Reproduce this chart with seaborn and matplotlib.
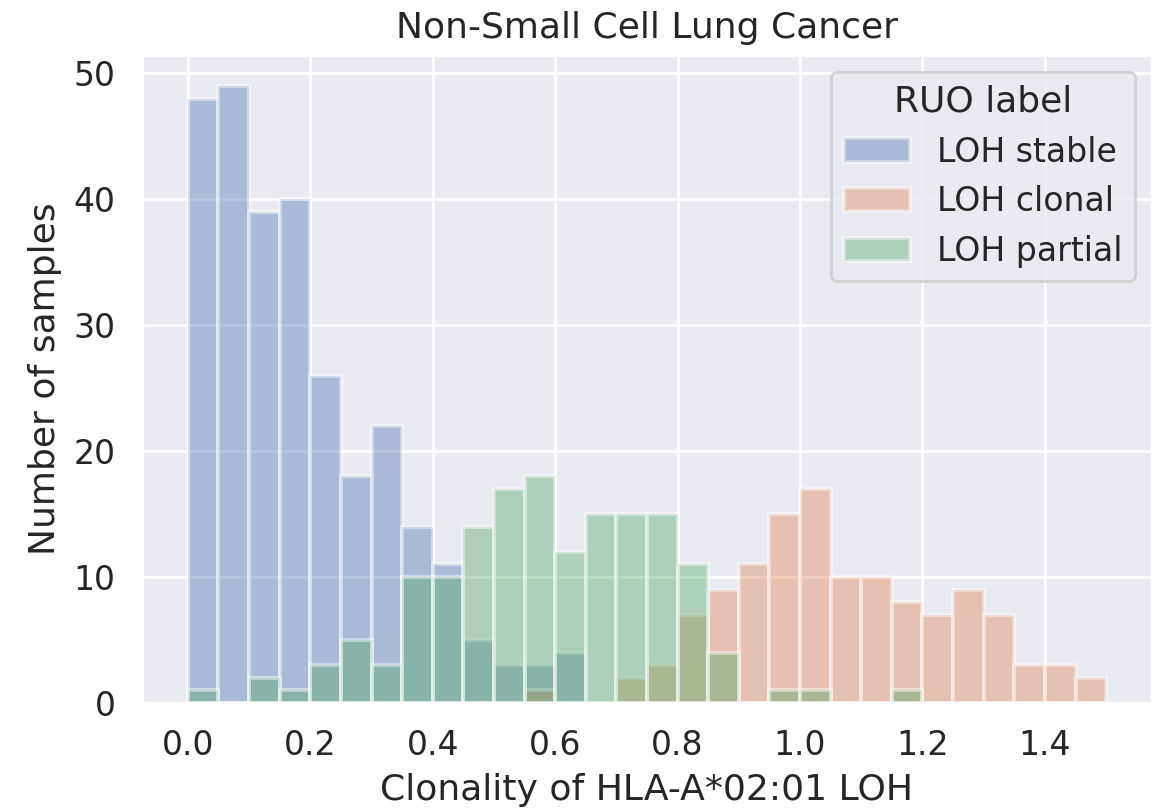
import numpy as np
import pandas as pd
import matplotlib
matplotlib.use("Agg")
import matplotlib.pyplot as plt
import matplotlib.colors as mcolors
import seaborn as sns

# Histogram bins: 0.00 to 1.50 in steps of 0.05
bin_edges = [round(0.05 * i, 2) for i in range(31)]

labels = ["LOH stable", "LOH clonal", "LOH partial"]

# Sample counts per bin for each RUO label
counts_stable = [48, 49, 39, 40, 26, 18, 22, 14, 11, 5, 3, 3, 4, 0, 0,
                 0, 0, 0, 0, 0, 0, 0, 0, 0, 0, 0, 0, 0, 0, 0]
counts_clonal = [0, 0, 0, 0, 0, 0, 0, 0, 0, 0, 0, 1, 0, 0, 2,
                 3, 7, 9, 11, 15, 17, 10, 10, 8, 7, 9, 7, 3, 3, 2]
counts_partial = [1, 0, 2, 1, 3, 5, 3, 10, 10, 14, 17, 18, 12, 15, 15,
                  15, 11, 4, 0, 1, 1, 0, 0, 1, 0, 0, 0, 0, 0, 0]

edges = np.array(bin_edges)
centers = (edges[:-1] + edges[1:]) / 2
frames = []
for lab, cnt in zip(labels, [counts_stable, counts_clonal, counts_partial]):
    frames.append(pd.DataFrame({"clonality": centers, "n": cnt, "RUO label": lab}))
df = pd.concat(frames, ignore_index=True)

sns.set_theme(font_scale=1.085)
palette = sns.color_palette("deep", 3)

fig = plt.figure(figsize=(5.785, 4.055), dpi=200)
ax = fig.add_axes([0.1227, 0.1332, 0.873, 0.7988])

sns.histplot(data=df, x="clonality", weights="n", hue="RUO label",
             hue_order=labels, palette=palette, bins=bin_edges, alpha=0.4,
             edgecolor=(1, 1, 1, 0.45), linewidth=1.4, ax=ax)

# Layer the groups so that later labels sit on top of earlier ones
for patch in ax.patches:
    fc = patch.get_facecolor()[:3]
    for k, col in enumerate(palette):
        if np.allclose(fc, col, atol=1e-3):
            patch.set_zorder(1 + 0.1 * k)

ax.set_title("Non-Small Cell Lung Cancer")
ax.set_xlabel("Clonality of HLA-A*02:01 LOH")
ax.set_ylabel("Number of samples")
ax.set_xticks([0.0, 0.2, 0.4, 0.6, 0.8, 1.0, 1.2, 1.4])
sns.move_legend(ax, "upper right")
ax.get_legend().set_zorder(5)

fig.savefig("out.png", dpi=200)
